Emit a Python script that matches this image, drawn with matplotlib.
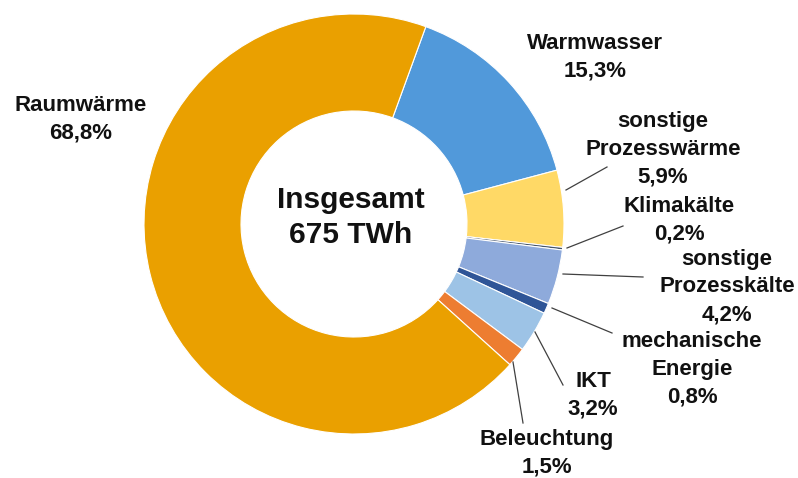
import matplotlib
matplotlib.use("Agg")
import matplotlib.pyplot as plt

# ---- data ----
categories = ["Warmwasser", "sonstige\nProzesswärme", "Klimakälte", "sonstige\nProzesskälte",
              "mechanische\nEnergie", "IKT", "Beleuchtung", "Raumwärme"]
shares = [15.3, 5.9, 0.2, 4.2, 0.8, 3.2, 1.5, 68.8]
share_labels = ["15,3%", "5,9%", "0,2%", "4,2%", "0,8%", "3,2%", "1,5%", "68,8%"]
colors = ["#5199DA", "#FFD966", "#44546A", "#8EAADB", "#2F5597", "#9DC3E6", "#ED7D31", "#EAA000"]
center_title = "Insgesamt\n675 TWh"

W, H = 798, 478
fig = plt.figure(figsize=(W / 100, H / 100), dpi=100)
ax = fig.add_axes([0, 0, 1, 1])

def Y(y):
    return H - y

cx, cy, R, r_in = 354, 224, 210, 113
ax.pie(shares, colors=colors, startangle=70, counterclock=False,
       center=(cx, Y(cy)), radius=R,
       wedgeprops=dict(width=R - r_in, edgecolor="white", linewidth=0.8))
ax.set_xlim(0, W)
ax.set_ylim(0, H)
ax.set_aspect("auto")
ax.axis("off")

font = "Liberation Sans"

# label placement: (center x, first baseline y) in pixels
label_pos = [(595, 49), (663, 127), (679, 212), (727, 265), (692, 347), (593, 387), (547, 445), (81, 111)]
# leader lines: (x0, y0, x1, y1) pixels, None = no line
leaders = [None, (566, 190, 607, 167), (567, 248, 623, 226), (563, 274, 643, 277),
           (552, 308, 612, 333), (535, 332, 563, 385), (513, 362, 523, 423), None]

spacing = 27.5
for name, pct, (lx, ly), ld in zip(categories, share_labels, label_pos, leaders):
    lines = name.split("\n") + [pct]
    for i, line in enumerate(lines):
        ax.text(lx, Y(ly + i * spacing), line, ha="center", va="baseline",
                fontsize=16, fontweight="bold", family=font, color="#111111")
    if ld is not None:
        x0, y0, x1, y1 = ld
        ax.plot([x0, x1], [Y(y0), Y(y1)], color="#404040", linewidth=0.9)

for i, line in enumerate(center_title.split("\n")):
    ax.text(351, Y(208 + i * 35), line, ha="center", va="baseline",
            fontsize=21.5, fontweight="bold", family=font, color="#111111")

fig.savefig("out.png", dpi=100, facecolor="white")
